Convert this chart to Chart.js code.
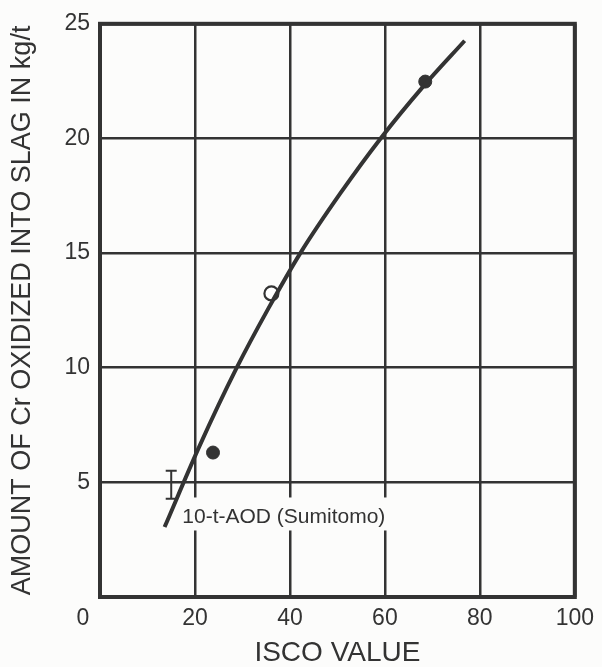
<!DOCTYPE html>
<html>
<head>
<meta charset="utf-8">
<script src="https://cdn.jsdelivr.net/npm/chart.js@4"></script>
<style>
  html, body { margin: 0; padding: 0; background: #fcfcfb; }
  canvas { display: block; }
</style>
</head>
<body>
<canvas id="c" width="602" height="667"></canvas>
<script>
// ---- data ----
const curveX = [13.6, 21.0, 28.8, 35.5, 42.2, 50.6, 59.1, 68.0, 76.8];
const curveY = [3.05, 6.6, 10.0, 12.6, 15.0, 17.6, 20.0, 22.25, 24.26];
const filledX = [23.8, 68.5];
const filledY = [6.3, 22.48];
const openX = [36.1];
const openY = [13.24];
const errX = [15.0, 15.0];
const errY = [4.28, 5.51];
const xTickValues = [0, 20, 40, 60, 80, 100];
const yTickValues = [5, 10, 15, 20, 25];
const xTitle = 'ISCO VALUE';
const yTitle = 'AMOUNT OF Cr OXIDIZED INTO SLAG IN kg/t';
const noteText = '10-t-AOD (Sumitomo)';
const notePos = { x: 17.33, y: 3.49 };

const ink = '#333333';
const bg = '#fcfcfb';
const FONT = '"Liberation Sans", Arial, Helvetica, sans-serif';

const toPts = (xs, ys) => xs.map((v, i) => ({ x: v, y: ys[i] }));

const framePlugin = {
  id: 'frame',
  beforeDatasetsDraw(chart) {
    const { ctx, chartArea: a, scales: { x, y } } = chart;
    ctx.save();
    // note label with background box
    ctx.font = '21px ' + FONT;
    const tx = x.getPixelForValue(notePos.x);
    const ty = y.getPixelForValue(notePos.y);
    const w = ctx.measureText(noteText).width;
    ctx.fillStyle = bg;
    ctx.fillRect(tx - 4, ty - 19.5, w + 10, 33);
    ctx.fillStyle = ink;
    ctx.textBaseline = 'middle';
    ctx.textAlign = 'left';
    ctx.fillText(noteText, tx, ty);
    // frame
    ctx.lineWidth = 4;
    ctx.strokeStyle = ink;
    ctx.strokeRect(a.left, a.top, a.right - a.left, a.bottom - a.top);
    // shared origin label
    ctx.font = '23px ' + FONT;
    ctx.textAlign = 'center';
    ctx.fillText('0', x.getPixelForValue(0) - 17, a.bottom + 8 + 13.8);
    ctx.restore();
  }
};

new Chart(document.getElementById('c'), {
  type: 'scatter',
  data: {
    datasets: [
      {
        label: 'curve',
        data: toPts(curveX, curveY),
        showLine: true,
        borderColor: ink,
        borderWidth: 4,
        pointRadius: 0,
        cubicInterpolationMode: 'monotone',
        fill: false
      },
      {
        label: 'range',
        data: toPts(errX, errY),
        showLine: true,
        borderColor: ink,
        borderWidth: 2,
        pointStyle: 'line',
        pointRadius: 5.5,
        pointBorderWidth: 2,
        pointBorderColor: ink
      },
      {
        label: 'filled',
        data: toPts(filledX, filledY),
        pointRadius: 6.5,
        pointBackgroundColor: ink,
        pointBorderColor: ink,
        pointBorderWidth: 1
      },
      {
        label: 'open',
        data: toPts(openX, openY),
        pointRadius: 7,
        pointBackgroundColor: '#ffffff',
        pointBorderColor: ink,
        pointBorderWidth: 2.2
      }
    ]
  },
  options: {
    responsive: false,
    animation: false,
    devicePixelRatio: 1,
    layout: { padding: { top: 21, right: 23, bottom: 0, left: 0 } },
    plugins: {
      legend: { display: false },
      tooltip: { enabled: false }
    },
    scales: {
      x: {
        type: 'linear',
        min: 0, max: 100,
        afterBuildTicks: s => { s.ticks = xTickValues.map(v => ({ value: v })); },
        afterFit: s => { s.height = 70; },
        grid: { color: ink, lineWidth: 2.5, drawTicks: false },
        border: { display: false },
        ticks: {
          padding: 8,
          color: ink,
          font: { family: FONT, size: 23 },
          maxRotation: 0,
          callback: v => (v === 0 ? '' : String(v))
        },
        title: {
          display: true,
          text: xTitle,
          color: ink,
          font: { family: FONT, size: 28, lineHeight: 1 },
          padding: { top: 0, bottom: 0 }
        }
      },
      y: {
        type: 'linear',
        min: 0, max: 25,
        afterBuildTicks: s => { s.ticks = [0].concat(yTickValues).map(v => ({ value: v })); },
        afterFit: s => { s.width = 100; },
        grid: { color: ink, lineWidth: 2.5, drawTicks: false },
        border: { display: false },
        ticks: {
          padding: 10,
          color: ink,
          font: { family: FONT, size: 23 },
          callback: v => (v === 0 ? '' : String(v))
        },
        title: {
          display: true,
          text: yTitle,
          color: ink,
          font: { family: FONT, size: 27, lineHeight: 1 },
          padding: { top: 9, bottom: 0 }
        }
      }
    }
  },
  plugins: [framePlugin]
});
</script>
</body>
</html>
